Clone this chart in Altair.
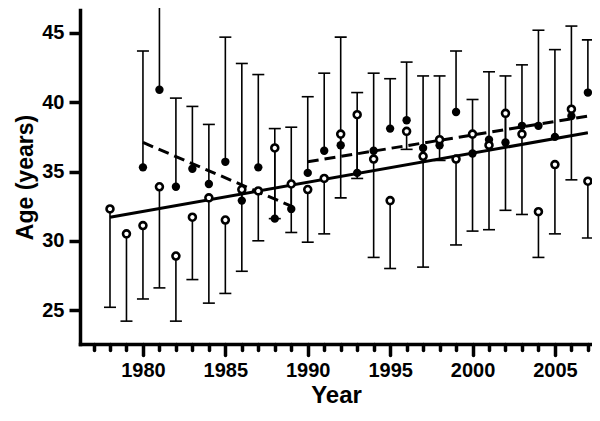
import altair as alt
import pandas as pd

# Open circles (lower error bars)
open_years = list(range(1978, 2008))
open_mean = [32.3, 30.5, 31.1, 33.9, 28.9, 31.7, 33.1, 31.5, 33.7, 33.6,
             36.7, 34.1, 33.7, 34.5, 37.7, 39.1, 35.9, 32.9, 37.9, 36.1,
             37.3, 35.9, 37.7, 36.9, 39.2, 37.7, 32.1, 35.5, 39.5, 34.3]
open_lower = [25.2, 24.2, 25.8, 26.6, 24.2, 27.2, 25.5, 26.2, 27.8, 30.0,
              31.6, 30.6, 29.9, 30.5, 33.1, 34.5, 28.8, 28.0, 36.6, 28.1,
              35.8, 29.7, 30.7, 30.8, 32.2, 31.9, 28.8, 30.5, 34.4, 30.2]

# Filled circles (upper error bars)
filled_years = list(range(1980, 2008))
filled_mean = [35.3, 40.9, 33.9, 35.2, 34.1, 35.7, 32.9, 35.3, 31.6, 32.3,
               34.9, 36.5, 36.9, 34.9, 36.5, 38.1, 38.7, 36.7, 36.9, 39.3,
               36.3, 37.3, 37.1, 38.3, 38.3, 37.5, 39.0, 40.7]
filled_upper = [43.7, 47.3, 40.3, 39.7, 38.4, 44.7, 42.8, 42.0, 38.1, 38.2,
                40.4, 42.1, 44.7, 40.7, 42.1, 41.7, 42.9, 41.9, 41.9, 43.7,
                40.2, 42.2, 41.9, 42.7, 45.2, 43.8, 45.5, 44.5]

# Regression lines
solid_years = [1978, 2007]
solid_age = [31.7, 37.8]
dash_segment = ["a", "a", "b", "b"]
dash_years = [1980, 1989, 1990, 2007]
dash_age = [37.1, 32.5, 35.7, 39.0]

open_df = pd.DataFrame({"year": open_years, "mean": open_mean, "lo": open_lower})
filled_df = pd.DataFrame({"year": filled_years, "mean": filled_mean, "hi": filled_upper})
solid_df = pd.DataFrame({"year": solid_years, "age": solid_age})
dash_df = pd.DataFrame({"seg": dash_segment, "year": dash_years, "age": dash_age})

FONT = "Liberation Sans"

x_axis = alt.Axis(
    values=list(range(1977, 2008)),
    format="d",
    labelExpr="datum.value % 5 === 0 ? datum.label : ''",
    tickSize={"condition": {"test": "datum.value % 5 === 0", "value": 11}, "value": 6},
    tickWidth=3.5, tickColor="black", tickCap="round",
    domainColor="black", domainWidth=3.5, domainCap="square",
    labelFont=FONT, labelFontSize=20, labelFontWeight="bold", labelColor="black",
    labelPadding=5, labelOverlap=False, labelFlush=False,
    title="Year", titleFont=FONT, titleFontSize=24, titleFontWeight="bold",
    titleColor="black", titlePadding=3, grid=False,
)
y_axis = alt.Axis(
    values=[25, 30, 35, 40, 45],
    tickSize=11, tickWidth=3.5, tickColor="black",
    domainColor="black", domainWidth=3.5, domainCap="square",
    labelFont=FONT, labelFontSize=20, labelFontWeight="bold", labelColor="black",
    labelPadding=5,
    title="Age (years)", titleFont=FONT, titleFontSize=23, titleFontWeight="bold",
    titleColor="black", titlePadding=4, grid=False,
)
x_scale = alt.Scale(domain=[1976.18, 2007.25], nice=False, zero=False)
y_scale = alt.Scale(domain=[22.55, 46.66], nice=False, zero=False)


def X():
    return alt.X("year:Q", scale=x_scale, axis=x_axis)


def Y(field):
    return alt.Y(f"{field}:Q", scale=y_scale, axis=y_axis, title="Age (years)")


open_bars = alt.Chart(open_df).mark_rule(color="black", strokeWidth=1.6).encode(
    x=X(), y=Y("lo"), y2="mean:Q")
open_caps = alt.Chart(open_df).mark_tick(color="black", orient="horizontal", size=12,
                                         thickness=1.6, opacity=1).encode(x=X(), y=Y("lo"))
filled_bars = alt.Chart(filled_df).mark_rule(color="black", strokeWidth=1.6).encode(
    x=X(), y=Y("mean"), y2="hi:Q")
filled_caps = alt.Chart(filled_df).mark_tick(color="black", orient="horizontal", size=12,
                                             thickness=1.6, opacity=1).encode(x=X(), y=Y("hi"))
solid_line = alt.Chart(solid_df).mark_line(color="black", strokeWidth=3).encode(
    x=X(), y=Y("age"))
dash_lines = alt.Chart(dash_df).mark_line(color="black", strokeWidth=3,
                                          strokeDash=[11, 6]).encode(
    x=X(), y=Y("age"), detail="seg:N")
filled_pts = alt.Chart(filled_df).mark_point(shape="circle", filled=True, color="black",
                                             size=70, opacity=1).encode(x=X(), y=Y("mean"))
open_pts = alt.Chart(open_df).mark_point(shape="circle", filled=True, fill="white",
                                         stroke="black", strokeWidth=2.6, size=48,
                                         opacity=1).encode(x=X(), y=Y("mean"))

chart = alt.layer(
    open_bars, open_caps, filled_bars, filled_caps,
    solid_line, dash_lines, filled_pts, open_pts,
).properties(
    width=512, height=334,
    autosize=alt.AutoSizeParams(type="none"),
    padding={"left": 72, "top": 2, "right": 0, "bottom": 64},
).configure_view(stroke=None)

chart.save("out.html", embed_options={"renderer": "svg", "actions": False})
